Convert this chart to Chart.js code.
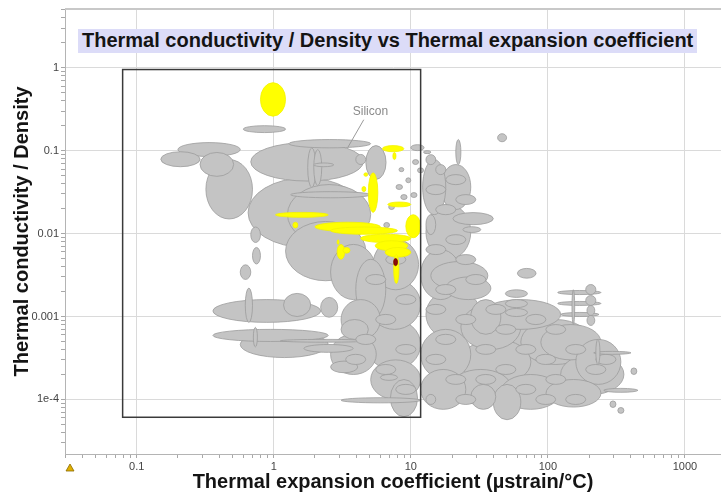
<!DOCTYPE html>
<html>
<head>
<meta charset="utf-8">
<script src="https://cdn.jsdelivr.net/npm/chart.js@4.4.1/dist/chart.umd.min.js"></script>
<style>
  html, body { margin: 0; padding: 0; background: #fff; }
  #wrap { position: relative; width: 721px; height: 495px; }
  #title {
    position: absolute; left: 78px; top: 29px; width: 619px; height: 24px;
    background: #dcdcf8; color: #141414; line-height: 24px; padding-left: 4px; box-sizing: border-box;
    font: bold 20px 'Liberation Sans', Arial, sans-serif; white-space: nowrap;
  }
</style>
</head>
<body>
<div id="wrap">
  <canvas id="chart" width="721" height="495"></canvas>
  <div id="title">Thermal conductivity / Density vs Thermal expansion coefficient</div>
</div>
<script>
// ranges of each material bubble: [alpha min, alpha max, k/rho min, k/rho max]
const grayMaterials = [
  [0.15, 0.29, 0.064, 0.097], [0.2, 0.57, 0.085, 0.125], [0.29, 0.51, 0.049, 0.095],
  [0.32, 0.70, 0.015, 0.078], [0.68, 4.5, 0.043, 0.125], [1.29, 5.1, 0.108, 0.136],
  [4.7, 6.6, 0.045, 0.115], [1.77, 2.03, 0.036, 0.108], [1.96, 2.24, 0.038, 0.103],
  [1.96, 2.74, 0.064, 0.071], [3.97, 4.69, 0.068, 0.09], [0.65, 4.5, 0.0068, 0.047],
  [1.26, 5.1, 0.0074, 0.039], [1.22, 4.7, 0.0027, 0.014], [1.33, 5.1, 0.027, 0.032],
  [0.68, 0.8, 0.0078, 0.012], [0.7, 0.8, 0.0043, 0.0068], [0.57, 0.68, 0.0028, 0.0042],
  [0.6, 1.22, 0.165, 0.2], [10, 12.5, 0.1, 0.118], [12.4, 14, 0.092, 0.1],
  [2.6, 5.6, 0.0016, 0.0074], [3.97, 6.57, 0.00092, 0.0049],
  // lower-left group
  [0.36, 2.2, 0.00085, 0.0016], [0.62, 0.70, 0.00085, 0.0022], [1.18, 1.86, 0.001, 0.0019],
  [2.2, 2.93, 0.00098, 0.0017], [0.36, 2.5, 0.0005, 0.0007], [0.57, 2.5, 0.00032, 0.00066],
  [0.71, 0.76, 0.00043, 0.00074], [2.6, 4.1, 0.00021, 0.00029], [6.0, 8.0, 0.00017, 0.0002],
  [3.1, 11.8, 0.000091, 0.000105], [7.1, 11.2, 0.000062, 0.000174], [3.1, 4.9, 0.00053, 0.00092],
  [1.12, 4.9, 0.00049, 0.00053], [1.66, 3.8, 0.00037, 0.00046],
  // dense polymer / metal cloud
  [5.3, 11.4, 0.0021, 0.0085], [4.9, 11.8, 0.0007, 0.0028], [4.7, 11.8, 0.00023, 0.00092],
  [5.1, 11.8, 0.0001, 0.0003], [3.1, 6.0, 0.00053, 0.0016], [2.6, 5.6, 0.0002, 0.00061],
  [12.2, 18, 0.0169, 0.078], [16.6, 27.4, 0.0195, 0.068], [12.9, 27.4, 0.0049, 0.0224],
  [11.8, 23.2, 0.0016, 0.0064], [12.9, 32.4, 0.00053, 0.0021], [11.8, 27.4, 0.000174, 0.0007],
  [11.8, 25.2, 0.000076, 0.00023], [23.2, 63.5, 0.0004, 0.0014], [32.4, 124, 0.0003, 0.00106],
  [63.5, 206, 0.000264, 0.00092], [23.2, 75.2, 0.000152, 0.00053], [63.5, 244, 0.000132, 0.00046],
  [124, 359, 0.000115, 0.00035], [19.6, 53.7, 0.000087, 0.00023], [45.4, 124, 0.000076, 0.0002],
  [97, 244, 0.000081, 0.000174], [40, 63.5, 0.000057, 0.000152], [27.4, 41.7, 0.000076, 0.000152],
  [14, 36.5, 0.0021, 0.0046], [18, 38.4, 0.0016, 0.003], [20.3, 40, 0.0128, 0.0179],
  [24, 32.4, 0.0103, 0.0121], [21.3, 23.2, 0.068, 0.136],
  [32.4, 124, 0.0007, 0.0016], [88.9, 244, 0.0003, 0.0008], [160, 341, 0.000152, 0.00053],
  [27.4, 45.4, 0.00061, 0.0016],
  [49, 71, 0.0017, 0.0021], [49, 71, 0.00128, 0.0016], [49, 71, 0.001, 0.00125],
  [118, 244, 0.00184, 0.00206], [118, 244, 0.00136, 0.00152], [124, 236, 0.001, 0.00112],
  [189, 224, 0.00184, 0.00243], [189, 224, 0.00136, 0.00179], [193, 220, 0.00103, 0.00136],
  [193, 220, 0.00078, 0.00103], [150, 157, 0.0008, 0.0021],
  [216, 404, 0.00035, 0.00038], [224, 240, 0.000264, 0.00053], [256, 454, 0.000122, 0.000136],
  [404, 446, 0.0002, 0.00024], [324, 359, 0.000068, 0.00008], [284, 314, 0.00008, 0.000096],
  [60, 82, 0.0029, 0.0038], [43, 50, 0.128, 0.16],
  [7.8, 8.7, 0.034, 0.039], [8.45, 9.4, 0.0257, 0.0295], [9.2, 10, 0.041, 0.047],
  [6.9, 7.6, 0.0195, 0.0224], [10, 11.1, 0.0272, 0.0312], [8.2, 8.9, 0.0558, 0.0624],
  [10.3, 11.4, 0.068, 0.078], [11.2, 12.4, 0.054, 0.062], [6.35, 7.0, 0.0118, 0.0136],
  // small grades packed inside the cloud
  [12.9, 15.2, 0.0678, 0.0895], [15.2, 18.0, 0.0514, 0.0678], [18.0, 25.2, 0.0389, 0.0514],
  [12.9, 18.0, 0.0295, 0.0389], [21.3, 29.8, 0.0224, 0.0295], [15.2, 21.3, 0.0169, 0.0224],
  [12.9, 15.2, 0.0097, 0.0169], [18.0, 25.2, 0.00737, 0.0097], [12.9, 18.0, 0.00558, 0.00737],
  [21.3, 29.8, 0.00423, 0.00558], [25.2, 35.3, 0.00243, 0.00321], [15.2, 21.3, 0.00184, 0.00243],
  [12.9, 18.0, 0.00106, 0.0014], [21.3, 29.8, 0.0008, 0.00106], [15.2, 21.3, 0.00046, 0.00061],
  [12.9, 18.0, 0.000264, 0.00035], [18.0, 25.2, 0.000152, 0.0002], [12.9, 15.2, 0.000087, 0.000115],
  [6.57, 9.2, 0.00423, 0.00558], [4.69, 6.57, 0.00243, 0.00321], [7.77, 10.9, 0.0014, 0.00184],
  [5.55, 7.77, 0.0008, 0.00106], [3.97, 5.55, 0.00046, 0.00061], [7.77, 10.9, 0.00035, 0.00046],
  [5.55, 7.77, 0.0002, 0.000264], [3.35, 4.69, 0.000264, 0.00035], [7.77, 10.9, 0.000115, 0.000152],
  [35.3, 49.4, 0.00106, 0.0014], [69.1, 96.7, 0.0008, 0.00106], [41.7, 58.4, 0.00061, 0.0008],
  [96.7, 135, 0.00061, 0.0008], [29.8, 41.7, 0.00035, 0.00046], [58.4, 81.7, 0.00035, 0.00046],
  [135, 189, 0.00035, 0.00046], [81.7, 114, 0.000264, 0.00035], [41.7, 58.4, 0.0002, 0.000264],
  [189, 265, 0.0002, 0.000264], [96.7, 135, 0.000152, 0.0002], [29.8, 41.7, 0.000152, 0.0002],
  [58.4, 81.7, 0.000115, 0.000152], [135, 189, 0.000087, 0.000115], [21.3, 29.8, 0.000087, 0.000115],
  [224, 314, 0.000264, 0.00035], [81.7, 114, 0.000087, 0.000115]
];
const yellowMaterials = [
  [0.8, 1.22, 0.26, 0.66], [6.2, 8.9, 0.097, 0.115], [7.4, 7.8, 0.078, 0.095],
  [4.9, 5.75, 0.018, 0.054], [6.8, 10, 0.021, 0.024], [1.03, 2.5, 0.0157, 0.018],
  [1.38, 1.5, 0.0117, 0.0137], [2.0, 6.0, 0.0106, 0.0137], [2.6, 8.0, 0.0098, 0.012],
  [9.2, 11.8, 0.0089, 0.0169], [4.3, 10, 0.0078, 0.0098], [5.5, 9.5, 0.0062, 0.0082],
  [6.5, 10, 0.0052, 0.0068], [2.9, 3.3, 0.0049, 0.0074], [3.2, 3.6, 0.0058, 0.0068],
  [7.5, 8.2, 0.0025, 0.0056], [2.9, 3.0, 0.0074, 0.0084], [4.55, 4.85, 0.049, 0.054],
  [4.4, 4.7, 0.032, 0.037]
];
const redMaterials = [[7.5, 8.0, 0.0041, 0.005]];
const selectionBox = [0.079, 11.8, 0.000061, 0.95];
const siliconLabel = { text: 'Silicon', x: 3.77, y: 0.295, from: [4.54, 0.236], to: [3.47, 0.109] };

const xTickValues = [0.1, 1, 10, 100, 1000];
const xTickLabels = ['0.1', '1', '10', '100', '1000'];
const yTickValues = [1, 0.1, 0.01, 0.001, 0.0001];
const yTickLabels = ['1', '0.1', '0.01', '0.001', '1e-4'];

const FONT = "'Liberation Sans', Arial, sans-serif";
const near = (a, b) => Math.abs(a - b) / b < 1e-6;
const labelFor = (vals, labs) => (v) => { const i = vals.findIndex((t) => near(v, t)); return i >= 0 ? labs[i] : ''; };
const isMajor = (vals) => (c) => vals.some((t) => near(c.tick.value, t)) ? '#dadada' : 'rgba(0,0,0,0)';

// log ticks 1..9 per decade, only decades get labels
function logTicks(scale) {
  const out = [];
  for (let e = -5; e <= 4; e++) for (let m = 1; m <= 9; m++) {
    const v = +(m * Math.pow(10, e)).toPrecision(6);
    if (v >= scale.min && v <= scale.max) out.push({ value: v });
  }
  scale.ticks = out;
}

const ashby = {
  id: 'ashby',
  beforeDatasetsDraw(chart) {
    const { ctx, chartArea: a, scales: { x, y } } = chart;
    ctx.save();
    ctx.beginPath(); ctx.rect(a.left, a.top, a.right - a.left, a.bottom - a.top); ctx.clip();
    const draw = (list, fill, stroke) => list.forEach((r) => {
      const x0 = x.getPixelForValue(r[0]), x1 = x.getPixelForValue(r[1]);
      const y0 = y.getPixelForValue(r[2]), y1 = y.getPixelForValue(r[3]);
      ctx.beginPath();
      ctx.ellipse((x0 + x1) / 2, (y0 + y1) / 2, Math.abs(x1 - x0) / 2, Math.abs(y1 - y0) / 2, 0, 0, Math.PI * 2);
      ctx.fillStyle = fill; ctx.fill();
      ctx.strokeStyle = stroke; ctx.lineWidth = 0.8; ctx.stroke();
    });
    const area = (r) => Math.log(r[1] / r[0]) * Math.log(r[3] / r[2]);
    draw([...grayMaterials].sort((p, q) => area(q) - area(p)), '#c4c4c4', '#9c9c9c');
    draw([...yellowMaterials].sort((p, q) => area(q) - area(p)), '#ffff00', '#f2f200');
    draw(redMaterials, '#8b0a0a', '#700000');

    // silicon callout
    ctx.strokeStyle = '#9a9a9a'; ctx.lineWidth = 1;
    ctx.beginPath();
    ctx.moveTo(x.getPixelForValue(siliconLabel.from[0]), y.getPixelForValue(siliconLabel.from[1]));
    ctx.lineTo(x.getPixelForValue(siliconLabel.to[0]), y.getPixelForValue(siliconLabel.to[1]));
    ctx.stroke();
    ctx.fillStyle = '#8a8a8a'; ctx.font = '12px ' + FONT; ctx.textBaseline = 'middle';
    ctx.fillText(siliconLabel.text, x.getPixelForValue(siliconLabel.x), y.getPixelForValue(siliconLabel.y));

    // selection box
    const bx0 = x.getPixelForValue(selectionBox[0]), bx1 = x.getPixelForValue(selectionBox[1]);
    const by0 = y.getPixelForValue(selectionBox[3]), by1 = y.getPixelForValue(selectionBox[2]);
    ctx.strokeStyle = '#3a3a3a'; ctx.lineWidth = 1.5;
    ctx.strokeRect(bx0, by0, bx1 - bx0, by1 - by0);
    ctx.restore();
  },
  afterDraw(chart) {
    const { ctx, chartArea: a } = chart;
    ctx.save();
    ctx.strokeStyle = '#c8c8c8'; ctx.lineWidth = 2;
    ctx.beginPath(); ctx.moveTo(a.left, a.top); ctx.lineTo(a.right, a.top); ctx.stroke();
    // little warning marker under the axes corner
    ctx.beginPath(); ctx.moveTo(70, 464); ctx.lineTo(74, 471); ctx.lineTo(66, 471); ctx.closePath();
    ctx.fillStyle = '#e0b000'; ctx.fill(); ctx.strokeStyle = '#8a6a00'; ctx.lineWidth = 0.8; ctx.stroke();
    ctx.restore();
  }
};

new Chart(document.getElementById('chart'), {
  type: 'scatter',
  data: { datasets: [] },
  plugins: [ashby],
  options: {
    responsive: false, animation: false,
    layout: { padding: { top: 9, left: 0, right: 0, bottom: 0 } },
    plugins: { legend: { display: false }, tooltip: { enabled: false } },
    scales: {
      x: {
        type: 'logarithmic', min: 0.03, max: 1834,
        afterBuildTicks: logTicks,
        afterFit(s) { s.height = 41; },
        border: { color: '#b4b4b4' },
        grid: { color: isMajor(xTickValues), tickColor: '#a8a8a8', tickLength: 4 },
        ticks: { autoSkip: false, maxRotation: 0, padding: 2, color: '#444', font: { family: FONT, size: 11 },
                 callback: labelFor(xTickValues, xTickLabels) },
        title: { display: true, text: 'Thermal expansion coefficient (µstrain/°C)', color: '#141414',
                 font: { family: FONT, size: 20, weight: 'bold' }, padding: { top: 0, bottom: 1 } }
      },
      y: {
        type: 'logarithmic', min: 0.000022, max: 5.1,
        afterBuildTicks: logTicks,
        afterFit(s) { s.width = 65; },
        border: { color: '#b4b4b4' },
        grid: { color: isMajor(yTickValues), tickColor: '#a8a8a8', tickLength: 4 },
        ticks: { autoSkip: false, padding: 2, color: '#444', font: { family: FONT, size: 11 },
                 callback: labelFor(yTickValues, yTickLabels) },
        title: { display: true, text: 'Thermal conductivity / Density', color: '#141414',
                 font: { family: FONT, size: 20, weight: 'bold' }, padding: { top: 10, bottom: 0 } }
      }
    }
  }
});
</script>
</body>
</html>
